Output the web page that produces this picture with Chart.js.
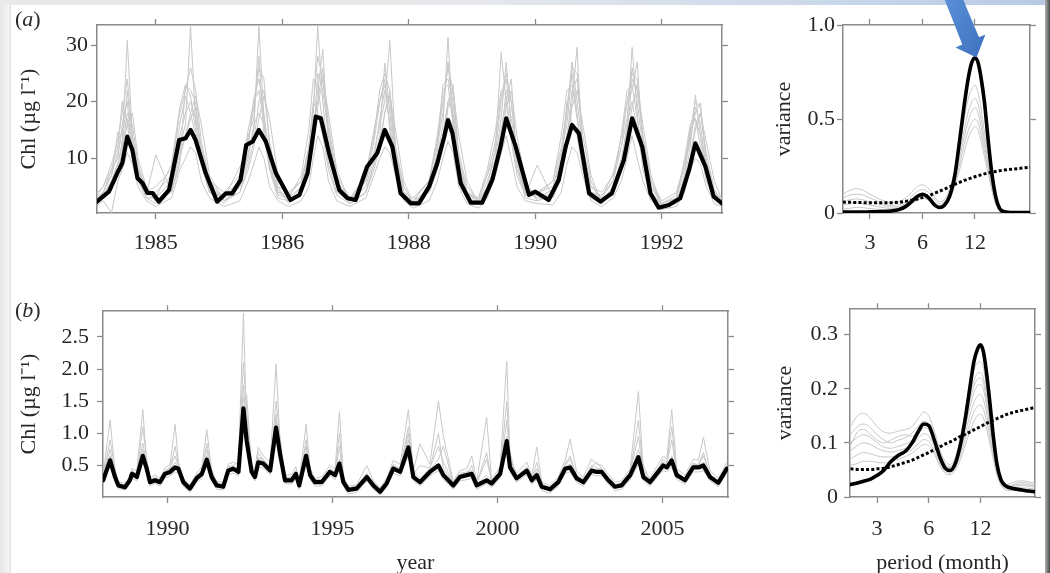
<!DOCTYPE html>
<html><head><meta charset="utf-8">
<script src="https://cdn.jsdelivr.net/npm/chart.js@4.4.1/dist/chart.umd.min.js"></script>
<style>
html,body{margin:0;padding:0;background:#fff;overflow:hidden;width:1050px;height:573px;}
#wrap{position:relative;width:1050px;height:573px;overflow:hidden;background:#fff;}
canvas{position:absolute;}
.lbl{position:absolute;font-family:'Liberation Serif','Times New Roman',serif;font-size:22px;line-height:22px;color:#2a2a2a;}
#leftstrip{position:absolute;left:0;top:0;width:11px;height:573px;background:linear-gradient(to right,#e6e6e6,#f3f3f3 80%,#dedede);}
#topstrip{position:absolute;left:0;top:0;width:1050px;height:5px;background:linear-gradient(to right,#e9e9e9 0%,#e6e8eb 45%,#c9d7ea 80%,#b6cae4 100%);}
#rightstrip{position:absolute;left:1045px;top:0;width:5px;height:573px;background:linear-gradient(to right,#b0b0b0,#4a4a4a);}
</style></head><body>
<div id="wrap">
<div id="leftstrip"></div><div id="topstrip"></div><div id="rightstrip"></div>
<canvas id="cA" width="760" height="290" style="left:0;top:0"></canvas>
<canvas id="cAS" width="290" height="290" style="left:755px;top:0"></canvas>
<canvas id="cB" width="760" height="283" style="left:0;top:290px"></canvas>
<canvas id="cBS" width="289" height="283" style="left:756px;top:290px"></canvas>
<div class="lbl" style="left:15px;top:8px">(<i>a</i>)</div>
<div class="lbl" style="left:15px;top:299px">(<i>b</i>)</div>
<svg style="position:absolute;left:0;top:0;pointer-events:none" width="1050" height="573">
<defs><linearGradient id="ag" x1="0" y1="0" x2="1" y2="1"><stop offset="0" stop-color="#5a8fd8"/><stop offset="1" stop-color="#3d71bd"/></linearGradient></defs>
<polygon points="944,-2 962.5,-2 979,37.2 985.4,34.5 976.5,57.5 955.5,47.5 962.3,44.4" fill="url(#ag)"/>
</svg>
</div>
<script>
// ---------- Panel (a) time series ----------
const aYear = [1984.05,1984.26,1984.39,1984.47,1984.55,1984.63,1984.71,1984.79,1984.87,1984.95,
1985.05,1985.21,1985.37,1985.47,1985.55,1985.63,1985.79,1985.97,1986.11,1986.21,
1986.34,1986.43,1986.53,1986.63,1986.74,1986.90,1987.13,1987.27,1987.40,1987.53,
1987.61,1987.74,1987.90,1988.03,1988.16,1988.34,1988.50,1988.62,1988.74,1988.87,
1989.03,1989.16,1989.32,1989.45,1989.56,1989.62,1989.69,1989.82,1989.98,1990.16,
1990.32,1990.45,1990.54,1990.69,1990.90,1991.00,1991.21,1991.37,1991.48,1991.58,
1991.69,1991.85,1992.03,1992.21,1992.40,1992.53,1992.69,1992.82,1992.95,1993.11,
1993.29,1993.43,1993.53,1993.69,1993.82,1993.95];
const aChl = [2.17,4.11,7.36,9.12,13.82,11.47,6.53,5.65,3.88,3.88,
2.35,4.41,13.23,13.53,15.0,13.23,7.36,2.35,3.83,3.83,
6.18,12.35,12.94,15.0,12.94,7.36,2.65,3.53,7.36,17.35,
17.06,10.89,4.41,2.95,2.65,8.52,10.89,15.0,12.05,3.83,
2.06,2.06,4.99,9.12,13.82,16.76,14.42,5.59,2.17,2.17,
6.18,12.05,17.06,12.05,3.53,4.11,2.65,6.18,12.05,15.88,
14.42,3.83,2.35,3.83,9.71,17.06,12.05,3.83,1.29,1.76,
2.95,7.94,12.65,8.52,3.23,2.06];
const aGrayYear = [1984.04,1984.17,1984.30,1984.40,1984.47,1984.55,1984.63,1984.72,1984.85,
1985.00,1985.25,1985.38,1985.47,1985.55,1985.63,1985.72,1985.85,
1986.08,1986.33,1986.46,1986.55,1986.63,1986.71,1986.80,1986.93,
1987.10,1987.30,1987.42,1987.49,1987.56,1987.64,1987.73,1987.86,
1988.07,1988.32,1988.45,1988.54,1988.62,1988.70,1988.79,1988.92,
1989.07,1989.32,1989.45,1989.54,1989.62,1989.70,1989.79,1989.92,
1990.10,1990.24,1990.37,1990.46,1990.54,1990.62,1990.71,1990.84,
1991.03,1991.28,1991.41,1991.50,1991.58,1991.66,1991.75,1991.88,
1992.05,1992.23,1992.36,1992.45,1992.53,1992.61,1992.70,1992.83,
1993.00,1993.23,1993.36,1993.45,1993.53,1993.61,1993.70,1993.83,1993.94];
const aGray1 = [2.5,3.5,6,9,13,30.8,14,8,5, 3,6,12,16,33.4,16,10,5, 2.5,5,11,15,33.4,17,9,4, 3,5,10,18,33.4,20,10,5,
2.5,6,11,16,20,30.8,12,4, 2,5,10,16,31.4,15,7,3, 2.2,5,12,28.7,20,13,7,3.5, 8.8,3,7,14,20,29.6,10,4,
2.5,5,10,15,29.6,18,8,3.5, 1.5,2.5,6,12,21.2,14,7,3,2.5];
const aGray2 = [3,4,7,14.7,12,22,12,6,3.5, 10.6,4,9,22.9,22,20,11,5, 3,8.5,12,20.6,24,18,10,4.5, 2.5,4,9,14,22,29.3,12,5,
2,4,9,14,26.8,18,9,3.5, 2.5,4.5,11,23,24,20,8,4, 2.5,6,10,17,27,15,9,4, 3,4.5,10,18,27,20,12,5,
3,7.4,12,20,22,27,12,5, 2,3,8,14,18,19.8,9,4,2];
const aGray3 = [2,3,5,8,11,18,16,9,4, 2.5,5,14,18,20,17,12,6, 2.5,4,9,13,20,22,13,5, 2,4,8,13,25,22,14,6,
2.5,5,10,17,22,20,10,4, 2,4,8,14,20,23,10,4, 2,4,8,14,22,20,10,5, 3,3.5,8,13,22,24,14,6,
2,4.5,8,14,24,22,14,6, 1.5,2.5,5,10,16,18,11,4.5,2.5];
const aGray4 = [1.5,2.5,0.4,6,8,11,9,5,2.5, 1.5,3,8,10,12,11,6,3, 1.5,2.5,6,9,12,10,5,2.5, 1.5,2.5,5,10,14,12,6,2.5,
1.5,3,7,10,12,11,7,2.5, 1.2,2.5,6,10,13,11,5,2, 1.2,3,7,11,14,10,5,2.5, 2,1.8,4,9,12,11,7,2.5,
1.5,3,6,10,14,10,6,2.5, 1,1.5,4,8,10,9,5,2,1.5];
const aGray5 = [3,5,8,10,16,20,10,6,4, 4,7,16,21,18,14,9,4, 3.5,6,14,17,28,14,8,4, 3.5,6,11,16,20,26,16,7,
3,6,13,20,24,15,8,3, 2.5,6,12,18,27,17,9,3.5, 3,7,11,20,24,17,11,4.5, 4,5,11,16,25,18,9,4,
3.5,6,12,17,26,20,12,5, 2,3.5,9,13,19,16,8,3.5,3];
const aGray6 = [2,4,7,11,15,17,12,7,3, 2,5,11,14,17,19,10,4, 2,5,10,16,18,16,8,3, 2.5,5,12,20,18,14,8,3.5,
2,4,8,12,18,22,12,5, 2,5,9,13,20,18,11,5, 2.5,5,9,15,20,24,9,3, 2.5,4,9,20,16,14,8,3,
2,4,9,16,20,15,9,4, 1.5,2,7,15,17,12,6,3,2];
const aGray7 = [3.5,5,9,13,18,24,14,8,4, 5,8,18,22,26,22,13,6, 4,7,13,19,26,24,12,5, 4,6,12,19,28,24,15,6,
3,7,14,22,25,22,11,4, 3,6,13,20,26,22,10,4, 3,7,13,21,25,20,10,4, 4,6,12,19,26,25,12,5,
4,7,14,20,25,24,14,6, 2.5,4,9,15,20,19,10,4,3];
const aGray8 = [2.5,4,8,12,20,16,10,6,3, 3,9,19,23,21,15,9,4, 3,6,15,20,22,16,9,3.5, 3,7,15,24,23,16,9,4,
2.5,7,15,20,23,16,8,3, 2.5,6,14,22,23,16,8,3, 3,8,15,22,21,14,8,3.5, 3.5,6,14,22,23,17,9,4,
3,6,14,22,23,17,10,4, 2,3,10,16,17,14,8,3,2.5];
const aGray9 = [2,3,6,9,12,16,18,10,5, 2.5,4,10,14,18,21,16,7, 2.5,4,8,12,17,21,17,7, 2.5,4,8,12,19,24,18,8,
2,4,9,13,18,21,15,6, 2,4,8,12,19,22,14,6, 2,4,8,13,19,22,14,6, 2.5,3.5,8,12,19,22,16,7,
2,4,8,13,19,23,16,7, 1.5,2.5,6,10,15,18,13,6,3];
const aTickYears = [1985,1987,1989,1991,1993];
const aTickLabels = ['1985','1986','1988','1990','1992'];
const aChlTicks = [10,20,30];
const aChlTickLabels = ['10','20','30'];

// ---------- Panel (b) time series ----------
const bYear = [1988.05,1988.26,1988.41,1988.51,1988.71,1988.86,1988.92,1989.07,1989.25,1989.37,
1989.47,1989.62,1989.77,1989.92,1990.08,1990.23,1990.33,1990.48,1990.68,1990.88,
1991.04,1991.19,1991.34,1991.49,1991.69,1991.84,1991.99,1992.15,1992.30,1992.40,
1992.55,1992.65,1992.75,1992.90,1993.11,1993.29,1993.41,1993.56,1993.76,1993.89,
1993.99,1994.20,1994.32,1994.47,1994.67,1994.92,1995.08,1995.21,1995.33,1995.48,
1995.73,1996.04,1996.24,1996.44,1996.64,1996.84,1997.05,1997.30,1997.45,1997.65,
1997.95,1998.21,1998.36,1998.66,1998.86,1999.07,1999.22,1999.37,1999.67,1999.82,
2000.08,2000.28,2000.38,2000.58,2000.89,2001.04,2001.19,2001.34,2001.59,2001.84,
2002.05,2002.20,2002.40,2002.60,2002.85,2003.01,2003.16,2003.36,2003.56,2003.76,
2004.02,2004.27,2004.42,2004.62,2004.87,2005.02,2005.13,2005.28,2005.43,2005.68,
2005.93,2006.09,2006.24,2006.44,2006.69,2006.95];
const bChl = [.27,.58,.32,.19,.16,.27,.37,.32,.65,.45,
.24,.27,.24,.37,.40,.47,.45,.24,.14,.30,
.37,.59,.32,.19,.17,.42,.45,.40,1.39,.88,
.40,.32,.55,.53,.42,1.09,.68,.27,.27,.37,
.19,.65,.35,.24,.24,.40,.35,.53,.24,.12,
.14,.32,.19,.09,.22,.45,.40,.78,.32,.24,
.40,.50,.35,.19,.32,.35,.37,.19,.27,.22,
.37,.88,.47,.30,.42,.27,.35,.17,.13,.24,
.45,.47,.30,.24,.42,.40,.40,.27,.17,.19,
.35,.63,.32,.24,.40,.50,.47,.58,.35,.27,
.47,.47,.50,.32,.23,.45];
const bGray1 = [.35,1.21,.40,.25,.22,.33,.45,.42,1.37,.55,
.30,.36,.30,.46,.52,1.14,.55,.30,.20,.38,
.48,1.06,.42,.25,.24,.52,.55,.52,2.87,1.05,
.50,.45,.78,.65,.55,2.08,.85,.35,.36,.48,
.26,1.14,.45,.30,.32,.50,.45,1.34,.32,.18,
.20,.50,.26,.15,.30,.58,.52,1.37,.42,.84,
.52,1.50,.96,.25,.42,.45,.65,.25,1.25,.28,
.48,2.12,.60,.38,.55,.35,.79,.24,.19,.32,
.58,.91,.40,.32,.60,.52,.50,.36,.24,.26,
.45,1.65,.42,.30,.52,.65,.60,1.37,.45,.35,
.60,.58,.94,.42,.30,.55];
const bGray2 = [.30,.90,.45,.22,.20,.30,.42,.36,1.10,.60,
.28,.30,.28,.42,.46,.80,.50,.28,.18,.34,
.42,.85,.38,.22,.20,.48,.50,.55,2.10,1.30,
.48,.38,.62,.60,.48,1.50,.95,.32,.30,.42,
.22,.90,.45,.28,.28,.45,.40,1.00,.30,.15,
.18,.38,.22,.12,.26,.50,.45,1.10,.40,.30,
.45,1.00,.45,.22,.38,.40,.42,.22,.60,.26,
.42,1.50,.60,.34,.48,.30,.45,.20,.16,.28,
.50,.60,.35,.28,.48,.55,.45,.30,.20,.22,
.40,1.20,.38,.28,.45,.60,.55,1.10,.40,.30,
.52,.52,.70,.36,.26,.50];
const bGray3 = [.22,.50,.26,.14,.12,.22,.30,.26,.55,.38,
.18,.22,.18,.30,.34,.40,.38,.18,.08,.24,
.30,.50,.26,.13,.12,.36,.38,.34,1.20,.75,
.34,.26,.48,.46,.36,.90,.58,.22,.21,.30,
.13,.55,.28,.18,.18,.34,.28,.45,.18,.06,
.08,.26,.13,.04,.16,.38,.34,.65,.26,.18,
.34,.42,.28,.13,.26,.28,.30,.13,.22,.16,
.30,.75,.40,.24,.36,.21,.28,.11,.07,.18,
.38,.40,.24,.18,.36,.34,.34,.21,.11,.13,
.28,.52,.26,.18,.34,.42,.40,.48,.28,.21,
.40,.40,.42,.26,.17,.38];
const bGray4 = [.32,.75,.38,.24,.18,.35,.40,.38,.85,.50,
.26,.33,.27,.40,.48,.65,.48,.26,.17,.36,
.40,.75,.36,.21,.22,.45,.48,.45,1.75,1.00,
.45,.40,.70,.58,.46,1.30,.80,.30,.33,.40,
.23,.80,.40,.27,.27,.44,.38,.80,.27,.15,
.17,.36,.22,.12,.25,.52,.44,1.00,.36,.50,
.46,.80,.55,.22,.36,.38,.50,.22,.70,.25,
.40,1.20,.55,.33,.46,.30,.55,.20,.15,.27,
.52,.65,.34,.27,.50,.46,.44,.30,.20,.22,
.40,.95,.36,.27,.46,.56,.52,.90,.40,.30,
.54,.50,.65,.36,.26,.50];
const bGray5 = [.30,.65,.36,.20,.18,.30,.40,.34,.75,.48,
.26,.30,.26,.40,.44,.55,.48,.26,.15,.32,
.40,.65,.34,.20,.19,.45,.48,.43,1.55,1.60,
.43,.34,.60,.56,.45,1.20,.75,.29,.29,.40,
.21,.70,.38,.26,.26,.42,.37,.60,.26,.13,
.16,.35,.21,.10,.24,.48,.43,.90,.34,.26,
.43,.60,.80,.21,.34,.37,.40,.21,.35,.24,
.40,.95,.70,.32,.45,.29,.40,.19,.14,.26,
.48,.52,.32,.26,.45,.43,.43,.29,.19,.21,
.38,.75,.50,.26,.43,.53,.50,.65,.38,.29,
.50,.50,.55,.34,.25,.48];
const bTickYears = [1990,1995,2000,2005];
const bTickLabels = ['1990','1995','2000','2005'];
const bChlTicks = [0.5,1.0,1.5,2.0,2.5];
const bChlTickLabels = ['0.5','1.0','1.5','2.0','2.5'];

// ---------- Spectra (right panels) ----------
const spPeriod = [2.1,2.3,2.5,2.75,3,3.3,3.6,4,4.4,4.8,5.2,5.6,6,6.5,7,7.5,8,8.6,9.2,9.8,10.4,11,11.5,12,12.5,13,13.6,14.3,15,15.8,16.6,17.5,19,21,23,24.9];
const spA_obs = [.005,.005,.005,.005,.006,.007,.008,.011,.018,.034,.06,.088,.10,.082,.045,.029,.04,.09,.20,.385,.57,.72,.80,.826,.80,.72,.59,.385,.21,.085,.025,.008,.003,.002,.002,.002];
const spA_noise = [.058,.057,.056,.055,.054,.054,.054,.055,.058,.062,.068,.074,.082,.092,.104,.115,.127,.139,.152,.163,.173,.181,.187,.193,.198,.203,.208,.213,.217,.221,.225,.228,.232,.236,.24,.243];
const spA_g1 = [.10,.12,.13,.12,.10,.08,.065,.055,.06,.08,.11,.14,.15,.13,.09,.06,.07,.13,.23,.36,.50,.61,.66,.68,.64,.56,.43,.30,.17,.07,.03,.012,.006,.004,.004,.004];
const spA_g2 = [.08,.095,.10,.095,.08,.065,.05,.04,.045,.06,.09,.115,.125,.11,.075,.05,.06,.11,.20,.32,.44,.54,.59,.61,.58,.50,.39,.27,.15,.06,.025,.01,.005,.004,.004,.004];
const spA_g3 = [.06,.07,.075,.07,.06,.05,.04,.032,.035,.05,.075,.095,.105,.09,.06,.04,.05,.10,.18,.29,.40,.49,.54,.56,.53,.46,.36,.25,.14,.055,.02,.008,.004,.003,.003,.003];
const spA_g4 = [.04,.05,.055,.05,.042,.035,.028,.024,.028,.04,.06,.08,.09,.078,.05,.034,.045,.09,.16,.26,.36,.44,.48,.50,.48,.42,.33,.23,.13,.05,.018,.007,.004,.003,.003,.003];
const spA_g5 = [.02,.025,.03,.028,.024,.02,.017,.016,.02,.03,.05,.068,.078,.068,.044,.03,.04,.08,.145,.23,.32,.40,.44,.46,.44,.38,.30,.21,.12,.045,.016,.006,.003,.002,.002,.002];
const spB_obs = [.023,.026,.029,.033,.04,.05,.065,.077,.085,.10,.12,.135,.132,.103,.072,.053,.049,.063,.098,.145,.20,.25,.272,.281,.268,.232,.177,.11,.06,.032,.022,.018,.015,.013,.011,.01];
const spB_noise = [.052,.051,.051,.051,.052,.053,.056,.06,.064,.068,.073,.078,.082,.088,.093,.098,.102,.107,.112,.116,.12,.124,.127,.13,.133,.136,.139,.142,.145,.148,.151,.154,.157,.16,.163,.165];
const spB_g1 = [.13,.15,.155,.145,.13,.12,.118,.122,.125,.13,.145,.157,.15,.12,.085,.065,.06,.075,.11,.16,.205,.235,.248,.25,.238,.205,.16,.105,.06,.035,.025,.024,.028,.03,.028,.026];
const spB_g2 = [.115,.13,.135,.128,.115,.105,.10,.105,.11,.118,.13,.14,.135,.11,.078,.06,.056,.07,.10,.145,.185,.215,.228,.23,.22,.19,.148,.098,.056,.032,.022,.02,.022,.024,.022,.02];
const spB_g3 = [.10,.11,.115,.11,.10,.092,.09,.094,.098,.105,.118,.128,.124,.10,.072,.055,.052,.065,.092,.13,.165,.193,.205,.208,.198,.172,.135,.09,.052,.03,.02,.018,.02,.021,.02,.018];
const spB_g4 = [.085,.095,.10,.097,.09,.085,.083,.086,.09,.096,.108,.117,.113,.092,.066,.05,.048,.06,.085,.118,.15,.175,.186,.19,.18,.157,.123,.083,.048,.028,.018,.015,.016,.017,.016,.015];
const spB_g5 = [.07,.078,.082,.08,.076,.074,.074,.078,.082,.088,.098,.106,.103,.084,.06,.046,.044,.055,.078,.107,.135,.157,.167,.17,.162,.142,.112,.076,.044,.025,.016,.013,.013,.014,.013,.012];
const spB_g6 = [.058,.062,.066,.066,.064,.063,.065,.07,.075,.081,.09,.097,.095,.078,.056,.043,.041,.05,.07,.096,.12,.14,.15,.153,.146,.128,.10,.068,.04,.022,.014,.012,.012,.012,.011,.01];
const spB_g7 = [.095,.12,.125,.115,.105,.10,.105,.112,.115,.112,.12,.132,.13,.105,.075,.057,.054,.068,.096,.137,.176,.205,.217,.22,.21,.18,.14,.094,.054,.031,.022,.02,.024,.027,.025,.022];
const spTicks = [3,6,12];
const spTickLabels = ['3','6','12'];
const spAVarTicks = [0,0.5,1.0];
const spAVarLabels = ['0','0.5','1.0'];
const spBVarTicks = [0,0.1,0.2,0.3];
const spBVarLabels = ['0','0.1','0.2','0.3'];

// ---------- drawing ----------
const FONT = "'Liberation Serif','Times New Roman',serif";
const FS = 22;
const TXT = '#262626';
const AX = '#8a8a8a';
Chart.defaults.font.family = FONT;

function xy(xs, ys){ return xs.map((x,i)=>({x:x, y:ys[i]})); }

function axis(pos, type, min, max, tickVals, tickLabels, size, pad, title){
  const horiz = (pos==='top'||pos==='bottom');
  return {
    type: type, position: pos, min: min, max: max,
    afterBuildTicks: s => { s.ticks = tickVals.map(v => ({value: v})); },
    afterFit: s => { if (horiz) s.height = size; else s.width = size; },
    ticks: { display: !!tickLabels, autoSkip: false, maxRotation: 0, padding: pad,
             callback: (v, i) => tickLabels ? tickLabels[i] : '',
             font: {size: FS, family: FONT}, color: TXT },
    grid: { drawOnChartArea: false, drawTicks: true, tickLength: 6, color: AX, tickColor: AX, tickWidth: 1.3 },
    border: { display: true, color: AX, width: 1.5 },
    title: title || {display: false}
  };
}

function yTitle(text){
  return {display: true, text: text, color: TXT, font: {size: FS, family: FONT}, padding: {top: 16.5, bottom: 0}};
}
function xTitle(text){
  return {display: true, text: text, color: TXT, font: {size: FS, family: FONT}, padding: {top: 0, bottom: -3}};
}

function blackLine(data, w){ return {data: data, borderColor: '#000', borderWidth: w, pointRadius: 0, tension: 0, borderJoinStyle: 'round', borderCapStyle: 'round'}; }
function grayLine(data){ return {data: data, borderColor: '#c8c8c8', borderWidth: 1, pointRadius: 0, tension: 0}; }
function smooth(ds){ ds.cubicInterpolationMode = 'monotone'; return ds; }

function make(id, datasets, scales){
  new Chart(document.getElementById(id), {
    type: 'line',
    data: {datasets: datasets},
    options: {
      responsive: false, animation: false, devicePixelRatio: 1, events: [],
      layout: {padding: 0},
      plugins: {legend: {display: false}, tooltip: {enabled: false}, title: {display: false}},
      scales: scales
    }
  });
}

// Panel (a) left
make('cA', [
  blackLine(xy(aYear, aChl), 4.2),
  grayLine(xy(aGrayYear, aGray1)), grayLine(xy(aGrayYear, aGray2)), grayLine(xy(aGrayYear, aGray3)),
  grayLine(xy(aGrayYear, aGray4)), grayLine(xy(aGrayYear, aGray5)), grayLine(xy(aGrayYear, aGray6)),
  grayLine(xy(aGrayYear, aGray7)), grayLine(xy(aGrayYear, aGray8)), grayLine(xy(aGrayYear, aGray9))
], {
  x: axis('bottom','linear',1984.071,1993.951,aTickYears,aTickLabels,77,11),
  x2: axis('top','linear',1984.071,1993.951,aTickYears,null,25,0),
  y: axis('left','linear',0.35,33.53,aChlTicks,aChlTickLabels,97,3,yTitle('Chl (µg l⁻¹)')),
  y2: axis('right','linear',0.35,33.53,aChlTicks,null,38,0)
});

// Panel (b) left
make('cB', [
  blackLine(xy(bYear, bChl), 4.2),
  grayLine(xy(bYear, bGray1)), grayLine(xy(bYear, bGray2)), grayLine(xy(bYear, bGray3)),
  grayLine(xy(bYear, bGray4)), grayLine(xy(bYear, bGray5))
], {
  x: axis('bottom','linear',1988.045,2006.985,bTickYears,bTickLabels,76,13,xTitle('year')),
  x2: axis('top','linear',1988.045,2006.985,bTickYears,null,19,0),
  y: axis('left','linear',0.01,2.9,bChlTicks,bChlTickLabels,103,8,yTitle('Chl (µg l⁻¹)')),
  y2: axis('right','linear',0.01,2.9,bChlTicks,null,32,0)
});

// Panel (a) right: spectrum  (plot 843..1030)
make('cAS', [
  smooth(blackLine(xy(spPeriod, spA_obs), 3.6)),
  Object.assign(smooth(blackLine(xy(spPeriod, spA_noise), 3)), {borderDash: [3, 2.2], borderCapStyle: 'butt'}),
  smooth(grayLine(xy(spPeriod, spA_g1))), smooth(grayLine(xy(spPeriod, spA_g2))), smooth(grayLine(xy(spPeriod, spA_g3))),
  smooth(grayLine(xy(spPeriod, spA_g4))), smooth(grayLine(xy(spPeriod, spA_g5)))
], {
  x: axis('bottom','logarithmic',2.104,24.81,spTicks,spTickLabels,77,11),
  x2: axis('top','logarithmic',2.104,24.81,spTicks,null,25,0),
  y: axis('left','linear',0,1.0,spAVarTicks,spAVarLabels,88,2,yTitle('variance')),
  y2: axis('right','linear',0,1.0,spAVarTicks,null,15,0)
});

// Panel (b) right: spectrum  (plot 850..1035)
make('cBS', [
  smooth(blackLine(xy(spPeriod, spB_obs), 3.6)),
  Object.assign(smooth(blackLine(xy(spPeriod, spB_noise), 3)), {borderDash: [3, 2.2], borderCapStyle: 'butt'}),
  smooth(grayLine(xy(spPeriod, spB_g1))), smooth(grayLine(xy(spPeriod, spB_g2))), smooth(grayLine(xy(spPeriod, spB_g3))),
  smooth(grayLine(xy(spPeriod, spB_g4))), smooth(grayLine(xy(spPeriod, spB_g5))), smooth(grayLine(xy(spPeriod, spB_g6))),
  smooth(grayLine(xy(spPeriod, spB_g7)))
], {
  x: axis('bottom','logarithmic',2.086,24.97,spTicks,spTickLabels,76,13,xTitle('period (month)')),
  x2: axis('top','logarithmic',2.086,24.97,spTicks,null,19,0),
  y: axis('left','linear',0,0.347,spBVarTicks,spBVarLabels,94,6,yTitle('variance')),
  y2: axis('right','linear',0,0.347,spBVarTicks,null,10,0)
});
</script>
</body></html>
